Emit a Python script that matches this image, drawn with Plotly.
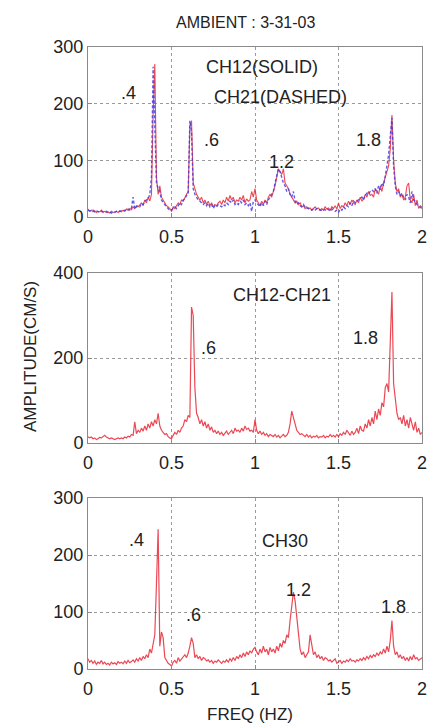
import numpy as np
import plotly.graph_objects as go

# frequency grid (Hz), 0.01 Hz sampling
freq = [round(i * 0.01, 2) for i in range(201)]

ch12 = [
    14, 10, 12, 9, 11, 8, 10, 9, 12, 8,
    10, 8, 9, 7, 10, 8, 9, 10, 8, 11,
    9, 12, 10, 14, 12, 15, 13, 18, 15, 20,
    18, 22, 25, 20, 30, 25, 35, 28, 40, 180,
    270, 70, 40, 55, 35, 30, 25, 20, 18, 15,
    10, 18, 15, 20, 25, 22, 30, 28, 35, 40,
    45, 160, 170, 60, 50, 40, 35, 30, 35, 25,
    30, 22, 28, 20, 25, 18, 22, 20, 25, 28,
    22, 30, 25, 35, 28, 38, 30, 35, 25, 30,
    28, 35, 30, 38, 25, 32, 28, 30, 45, 35,
    50, 30, 25, 20, 28, 22, 30, 25, 35, 40,
    35, 45, 55, 70, 85, 80, 75, 85, 60, 55,
    50, 40, 35, 30, 25, 28, 22, 25, 18, 20,
    15, 18, 14, 16, 12, 15, 18, 14, 16, 12,
    15, 12, 18, 14, 16, 12, 18, 15, 20, 14,
    25, 15, 20, 18, 25, 20, 28, 22, 30, 25,
    22, 30, 25, 35, 28, 32, 40, 35, 45, 38,
    40, 35, 50, 45, 40, 55, 45, 60, 70, 80,
    90, 120, 180, 100, 60, 45, 50, 35, 40, 30,
    35, 55, 60, 30, 25, 40, 20, 30, 15, 20,
    18,
]

ch21 = [
    12, 11, 10, 12, 9, 11, 10, 8, 10, 9,
    9, 10, 8, 9, 7, 9, 8, 10, 9, 10,
    11, 10, 12, 11, 14, 12, 15, 35, 14, 18,
    20, 18, 24, 22, 28, 30, 32, 40, 70, 265,
    160, 60, 50, 45, 30, 25, 22, 18, 15, 12,
    12, 15, 18, 15, 20, 25, 22, 30, 32, 38,
    40, 170, 150, 50, 40, 35, 30, 28, 25, 22,
    25, 20, 24, 18, 22, 15, 20, 18, 22, 20,
    18, 22, 20, 25, 22, 28, 25, 30, 22, 25,
    22, 28, 25, 30, 22, 25, 20, 25, 10, 28,
    30, 25, 22, 18, 25, 20, 28, 22, 30, 35,
    38, 45, 60, 75, 85, 80, 70, 60, 55, 45,
    50, 40, 35, 45, 28, 22, 25, 20, 18, 22,
    18, 15, 16, 14, 12, 14, 12, 15, 13, 12,
    12, 14, 12, 15, 13, 10, 14, 12, 10, 12,
    8, 14, 12, 18, 15, 20, 18, 25, 20, 28,
    25, 28, 30, 32, 35, 30, 38, 42, 40, 45,
    48, 45, 50, 42, 55, 48, 60, 55, 70, 90,
    110, 150, 175, 90, 55, 40, 45, 38, 42, 35,
    30, 40, 35, 25, 45, 30, 28, 22, 20, 18,
    15,
]

ch12_ch21 = [
    15, 12, 14, 10, 12, 8, 10, 13, 12, 15,
    18, 14, 12, 10, 12, 9, 8, 10, 12, 10,
    12, 10, 14, 12, 16, 14, 20, 18, 50, 22,
    30, 25, 35, 28, 40, 30, 45, 35, 50, 40,
    55, 45, 70, 40, 30, 25, 20, 22, 15, 12,
    10, 18, 25, 20, 30, 25, 35, 40, 55, 50,
    65, 60, 320, 300, 130, 70, 60, 45, 55, 40,
    50, 35, 45, 30, 38, 25, 30, 22, 28, 20,
    25, 18, 22, 28, 20, 25, 30, 22, 35, 28,
    30, 25, 35, 28, 40, 32, 35, 28, 30, 25,
    55, 30, 22, 28, 20, 25, 18, 22, 15, 20,
    18, 15, 20, 14, 18, 12, 16, 20, 15, 18,
    25, 45, 75, 60, 50, 30, 25, 20, 22, 18,
    15, 20, 14, 18, 12, 16, 14, 18, 12, 15,
    14, 18, 12, 16, 14, 20, 15, 18, 14, 20,
    15, 22, 18, 25, 20, 30, 22, 18, 28, 20,
    25, 35, 22, 40, 30, 28, 45, 35, 55, 40,
    60, 45, 75, 55, 80, 65, 95, 85, 130, 140,
    120, 230, 355, 140, 100, 70, 55, 60, 45, 65,
    40, 55, 35, 60, 45, 30, 50, 25, 35, 20,
    25,
]

ch30 = [
    18, 12, 15, 10, 14, 8, 12, 10, 15, 9,
    12, 8, 10, 7, 12, 9, 11, 8, 13, 10,
    12, 9, 14, 10, 15, 11, 13, 16, 12, 18,
    14, 20, 15, 22, 18, 25, 20, 35, 28, 45,
    60, 150, 245, 40, 65, 55, 20, 15, 10, 8,
    5, 12, 15, 10, 20, 14, 18, 22, 25, 20,
    28, 40, 55, 45, 20, 25, 18, 22, 15, 20,
    18, 14, 16, 12, 15, 10, 14, 12, 16, 13,
    10, 14, 12, 16, 12, 18, 14, 20, 15, 22,
    18, 25, 20, 28, 22, 30, 25, 32, 28, 35,
    38, 30, 25, 35, 28, 40, 30, 35, 25, 38,
    30, 35, 28, 40, 32, 45, 38, 50, 45, 60,
    55, 85, 110, 135, 120, 90, 60, 35, 25, 30,
    20, 25, 30, 60, 45, 25, 30, 20, 25, 18,
    22, 15, 20, 18, 14, 16, 12, 15, 18, 10,
    12, 15, 10, 14, 12, 16, 13, 18, 14, 15,
    12, 16, 14, 18, 15, 20, 16, 22, 18, 24,
    20, 25, 22, 28, 24, 30, 26, 35, 28, 40,
    30, 50, 85, 40, 25, 30, 20, 25, 18, 22,
    15, 20, 14, 22, 16, 25, 18, 20, 15, 18,
    20,
]

x_ticks = [0, 0.5, 1, 1.5, 2]
x_tick_labels = ["0", "0.5", "1", "1.5", "2"]
y_ticks_300 = [0, 100, 200, 300]
y_ticks_400 = [0, 200, 400]

RED = "rgba(232,40,55,0.85)"
BLUE = "rgba(70,60,225,0.85)"
FONT = "Liberation Sans, Arial, sans-serif"
TXT = "#222222"
GRID = "#9a9a9a"
FRAME = "#8a8a8a"

fig = go.Figure()
fig.add_trace(go.Scatter(x=freq, y=ch12, mode="lines", line=dict(color=RED, width=1.1),
                         xaxis="x", yaxis="y", showlegend=False))
fig.add_trace(go.Scatter(x=freq, y=ch21, mode="lines", line=dict(color=BLUE, width=1.4, dash="3px,2px"),
                         xaxis="x", yaxis="y", showlegend=False))
fig.add_trace(go.Scatter(x=freq, y=ch12_ch21, mode="lines", line=dict(color=RED, width=1.2),
                         xaxis="x2", yaxis="y2", showlegend=False))
fig.add_trace(go.Scatter(x=freq, y=ch30, mode="lines", line=dict(color=RED, width=1.2),
                         xaxis="x3", yaxis="y3", showlegend=False))

xdom = [88 / 433, 422 / 433]
doms = [[1 - 217 / 723, 1 - 47 / 723], [1 - 443 / 723, 1 - 273 / 723], [1 - 669 / 723, 1 - 498 / 723]]

def xax(anchor):
    return dict(domain=xdom, anchor=anchor, range=[0, 2], tickvals=x_ticks, ticktext=x_tick_labels,
                showgrid=True, gridcolor=GRID, griddash="dot", gridwidth=1,
                showline=True, mirror=True, linecolor=FRAME, linewidth=1,
                ticks="inside", ticklen=4, tickcolor=FRAME, zeroline=False,
                automargin=False, ticklabelstandoff=3,
                tickfont=dict(family=FONT, size=18, color=TXT), fixedrange=True)

def yax(anchor, dom, rng, tv):
    return dict(domain=dom, anchor=anchor, range=rng, tickvals=tv,
                showgrid=True, gridcolor=GRID, griddash="dot", gridwidth=1,
                showline=True, mirror=True, linecolor=FRAME, linewidth=1,
                ticks="inside", ticklen=4, tickcolor=FRAME, zeroline=False,
                automargin=False,
                tickfont=dict(family=FONT, size=18, color=TXT), fixedrange=True)

fig.update_layout(
    template="none",
    width=433, height=723, margin=dict(l=0, r=0, t=0, b=0),
    paper_bgcolor="white", plot_bgcolor="white",
    xaxis=xax("y"), yaxis=yax("x", doms[0], [0, 300], y_ticks_300),
    xaxis2=xax("y2"), yaxis2=yax("x2", doms[1], [0, 400], y_ticks_400),
    xaxis3=xax("y3"), yaxis3=yax("x3", doms[2], [0, 300], y_ticks_300),
)

ann = []
def a(x, y, t, xr, yr, size=18):
    ann.append(dict(x=x, y=y, xref=xr, yref=yr, text=t, showarrow=False,
                    xanchor="center", yanchor="middle",
                    font=dict(family=FONT, size=size, color=TXT)))

# panel 1
a(0.24, 219, ".4", "x", "y")
a(1.04, 265, "CH12(SOLID)", "x", "y")
a(1.15, 212, "CH21(DASHED)", "x", "y")
a(0.74, 136, ".6", "x", "y")
a(1.16, 97, "1.2", "x", "y")
a(1.68, 136, "1.8", "x", "y")
# panel 2
a(1.16, 348, "CH12-CH21", "x2", "y2")
a(0.72, 223, ".6", "x2", "y2")
a(1.66, 247, "1.8", "x2", "y2")
# panel 3
a(0.29, 226, ".4", "x3", "y3")
a(1.18, 225, "CH30", "x3", "y3")
a(1.26, 139, "1.2", "x3", "y3")
a(0.63, 95, ".6", "x3", "y3")
a(1.83, 109, "1.8", "x3", "y3")

# title and axis titles
def p(x, y, t, size, angle=0):
    ann.append(dict(x=x / 433, y=1 - y / 723, xref="paper", yref="paper", text=t,
                    showarrow=False, xanchor="center", yanchor="middle", textangle=angle,
                    font=dict(family=FONT, size=size, color=TXT)))

p(245, 22, "AMBIENT : 3-31-03", 16)
p(250, 714, "FREQ (HZ)", 17)
p(30, 357, "AMPLITUDE(CM/S)", 17, -90)
fig.update_layout(annotations=ann)

fig.write_html("out.html", config={"displayModeBar": False},
               post_script="document.body.style.margin='0';")
